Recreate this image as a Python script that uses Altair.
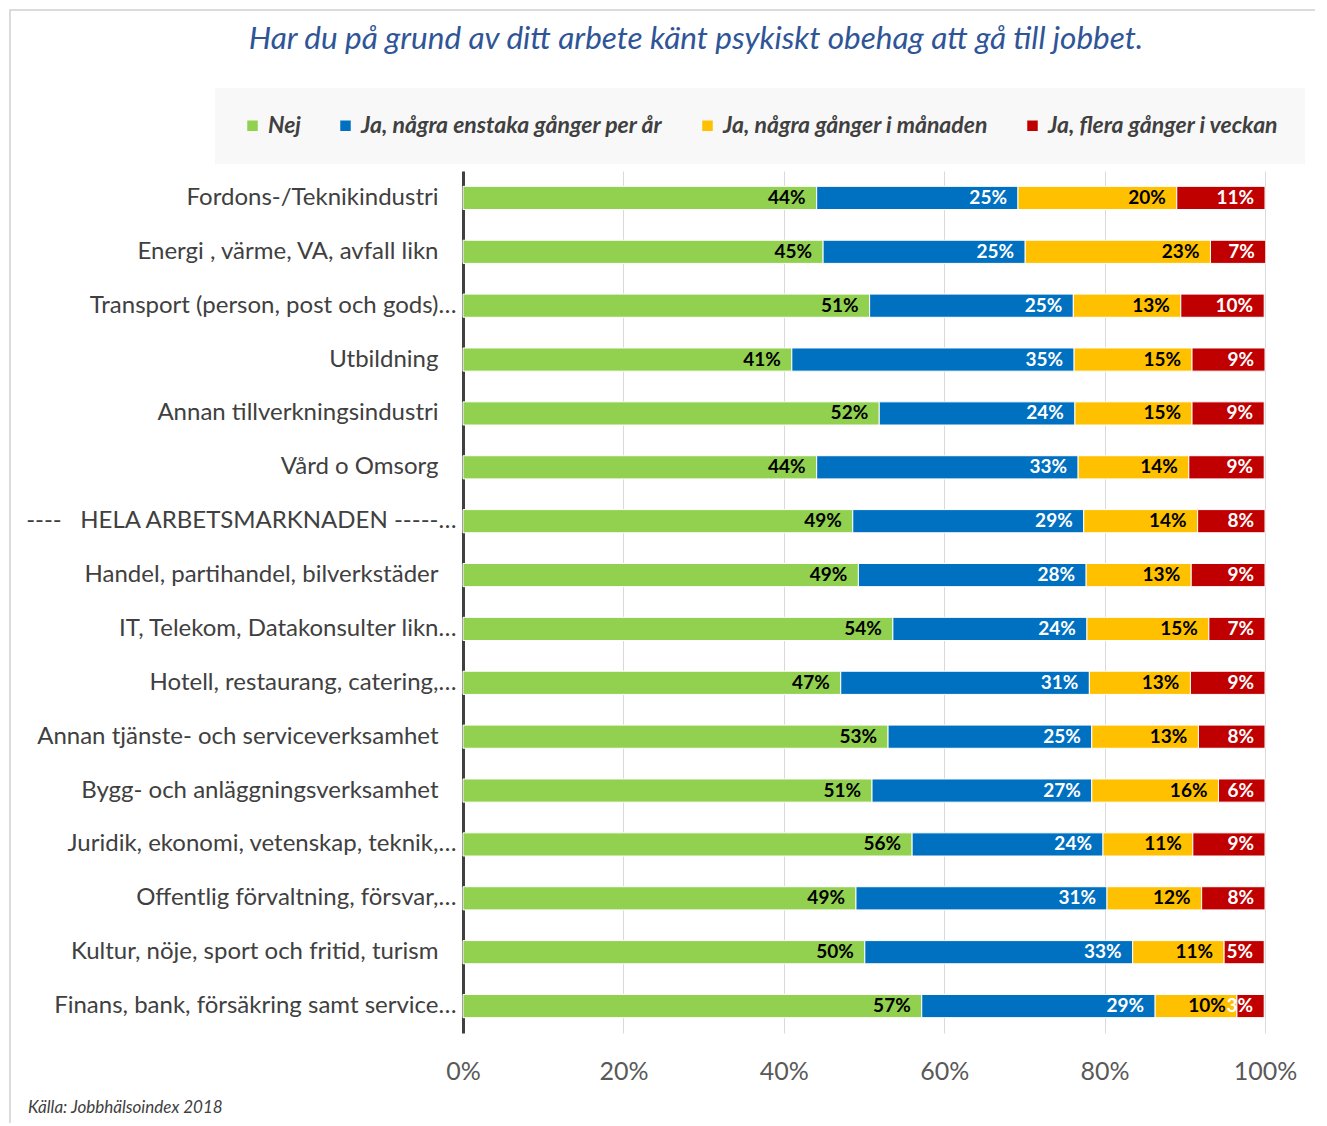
import altair as alt
import pandas as pd

industries = [
    "Fordons-/Teknikindustri",
    "Energi , värme, VA, avfall likn",
    "Transport (person, post och gods)…",
    "Utbildning",
    "Annan tillverkningsindustri",
    "Vård o Omsorg",
    "----\u00a0\u00a0\u00a0HELA ARBETSMARKNADEN -----…",
    "Handel, partihandel, bilverkstäder",
    "IT, Telekom, Datakonsulter likn…",
    "Hotell, restaurang, catering,…",
    "Annan tjänste- och serviceverksamhet",
    "Bygg- och anläggningsverksamhet",
    "Juridik, ekonomi, vetenskap, teknik,…",
    "Offentlig förvaltning, försvar,…",
    "Kultur, nöje, sport och fritid, turism",
    "Finans, bank, försäkring samt service…",
]
series = ["Nej", "Ja, några enstaka gånger per år", "Ja, några gånger i månaden", "Ja, flera gånger i veckan"]
colors = ["#92D050", "#0070C0", "#FFC000", "#C00000"]

nej =     [44.1, 44.9, 50.7, 41.0, 51.9, 44.1, 48.6, 49.3, 53.6, 47.1, 53.0, 51.0, 56.0, 49.0, 50.1, 57.2]
enstaka = [25.1, 25.2, 25.4, 35.2, 24.4, 32.6, 28.8, 28.4, 24.2, 31.0, 25.4, 27.4, 23.8, 31.3, 33.4, 29.1]
manaden = [19.8, 23.1, 13.4, 14.7, 14.6, 13.8, 14.2, 13.1, 15.2, 12.6, 13.3, 15.8, 11.2, 11.8, 11.4, 10.2]
veckan =  [11.0, 6.9, 10.4, 9.1, 9.0, 9.4, 8.4, 9.2, 7.0, 9.3, 8.3, 5.8, 9.0, 7.9, 5.0, 3.4]

title_text = ["Har du på grund av ditt arbete känt psykiskt obehag att gå till jobbet."]
source_text = ["Källa: Jobbhälsoindex 2018"]
x_ticks = [0, 20, 40, 60, 80, 100]

rows = []
for i, ind in enumerate(industries):
    start = 0.0
    for s, vals in enumerate([nej, enstaka, manaden, veckan]):
        v = vals[i]
        rows.append(dict(industry=ind, series=series[s], order=s, start=start,
                         end=start + v, label=f"{int(round(v))}%"))
        start += v
df = pd.DataFrame(rows)

FONT = "Lato"
BOLDFONT = "Liberation Sans Narrow, Lato"

y_enc = alt.Y(
    "industry:N", sort=industries, title=None,
    scale=alt.Scale(paddingInner=0.57, paddingOuter=0.285),
    axis=alt.Axis(domainColor="#404040", domainWidth=3, ticks=False,
                  labelPadding={"condition": {"test": "indexof(datum.value, '…') >= 0", "value": 7},
                                "value": 25},
                  labelFontSize=24, labelColor="#404040", labelLimit=600, labelFont=FONT, grid=False),
)

base = alt.Chart(df)

bars = base.mark_bar(stroke="white", strokeWidth=1).encode(
    x=alt.X("start:Q", title=None, scale=alt.Scale(domain=[0, 100], nice=False),
            axis=alt.Axis(values=x_ticks, labelExpr="datum.value + '%'", grid=True,
                          gridColor="#d9d9d9", gridWidth=1, domain=False, ticks=False,
                          labelFlush=False, labelPadding=26, labelFontSize=25,
                          labelColor="#595959", labelFont=FONT)),
    x2="end:Q",
    y=y_enc,
    color=alt.Color("series:N", sort=series,
                    scale=alt.Scale(domain=series, range=colors),
                    legend=alt.Legend(title=None, orient="none", legendX=-248, legendY=-83,
                                      direction="horizontal", columns=4, symbolType="square",
                                      symbolSize=110, symbolStrokeWidth=0,
                                      labelFontSize=23, labelFont=FONT, labelFontStyle="italic",
                                      labelFontWeight="bold", labelColor="#404040",
                                      labelLimit=600, columnPadding=33, padding=26,
                                      fillColor="#f8f8f8")),
    order=alt.Order("order:Q"),
)

labels = base.mark_text(align="right", baseline="middle", dx=-11, fontSize=19,
                        fontWeight="bold", font=BOLDFONT).encode(
    x="end:Q",
    y=alt.Y("industry:N", sort=industries),
    text="label:N",
    color=alt.condition(alt.FieldOneOfPredicate(field="order", oneOf=[1, 3]),
                        alt.value("white"), alt.value("black")),
)

frame = alt.Chart(pd.DataFrame({"a": [0]})).mark_rect(
    fill="transparent", stroke="#d0d0d0", strokeWidth=1.5).encode(
    x=alt.value(-453), x2=alt.value(857), y=alt.value(-161), y2=alt.value(965))

title = alt.Chart(pd.DataFrame({"t": title_text})).mark_text(
    fontSize=31.5, fontStyle="italic", color="#2F5597", font=FONT, align="center",
    baseline="middle").encode(x=alt.value(233), y=alt.value(-131), text="t:N")

source = alt.Chart(pd.DataFrame({"t": source_text})).mark_text(
    fontSize=17, fontStyle="italic", color="#404040", font=FONT, align="left",
    baseline="middle").encode(x=alt.value(-435), y=alt.value(937), text="t:N")

chart = alt.layer(frame, bars, labels, title, source).properties(
    width=802, height=862,
    autosize=alt.AutoSizeParams(type="none"),
    padding={"left": 455, "top": 163, "right": 50, "bottom": 90},
).configure_view(stroke=None)

chart.save("out.html", embed_options={"renderer": "svg", "actions": False})
